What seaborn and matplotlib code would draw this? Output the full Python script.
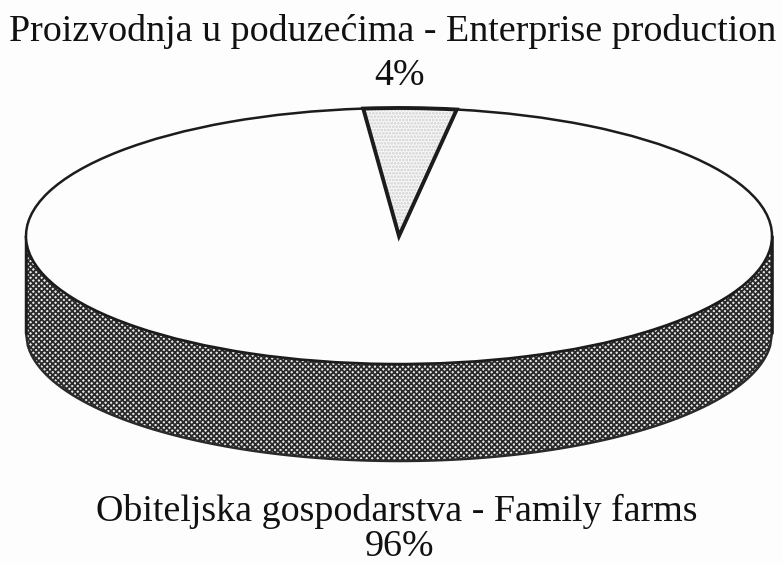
import numpy as np
import matplotlib
matplotlib.use('Agg')
import matplotlib.pyplot as plt
import seaborn as sns

categories = ['Obiteljska gospodarstva - Family farms', 'Proizvodnja u poduzećima - Enterprise production']
shares = [96, 4]
share_labels = ['96%', '4%']

sns.set_theme(style='white')
plt.rcParams['font.family'] = ['Liberation Serif', 'DejaVu Serif']
plt.rcParams['hatch.linewidth'] = 1.3

DARK = '#1c1c1c'

# pixel geometry of the tilted disc
CX, CY, RX, RY, DEPTH = 399, 236, 373, 128, 97

fig = plt.figure(figsize=(7.82, 5.63), dpi=100)
ax = fig.add_axes([0, 0, 1, 1])

# side wall of the disc
t = np.linspace(-1, 1, 400)
ax.fill_between(t, -np.sqrt(1 - t**2) - DEPTH / RY, -np.sqrt(1 - t**2),
                facecolor='#e8e8e8', edgecolor='#2a2a2a', hatch='xxxxxx', linewidth=1.8, zorder=1)
ax.plot([-1, -1], [0, -DEPTH / RY], color=DARK, lw=1.8, zorder=2)
ax.plot([1, 1], [0, -DEPTH / RY], color=DARK, lw=1.8, zorder=2)

# top face: wedge slightly off centre, like the source
start = 90 - 8.9
wedges, _ = ax.pie(shares[::-1], startangle=start, radius=1, center=(0, 0), frame=True,
                   colors=['#f8f8f8', '#fdfdfd'], wedgeprops={'edgecolor': DARK, 'linewidth': 1.8})
wedges[1].set_zorder(3)
wedges[0].set_zorder(4)
wedges[0].set_edgecolor('#cfcfcf')
wedges[0].set_hatch('.....')
wedges[0].set_linewidth(0)

# outline of the small wedge on top of its stipple
outline, _ = ax.pie(shares[::-1], startangle=start, radius=1, center=(0, 0), frame=True,
                    colors=['none', 'none'], wedgeprops={'edgecolor': DARK, 'linewidth': 2.8})
outline[0].set_zorder(5)
outline[1].set_visible(False)

ax.set_aspect('auto')
ax.set_xlim((0 - CX) / RX, (782 - CX) / RX)
ax.set_ylim((CY - 563) / RY, CY / RY)
ax.axis('off')

def label(px, py, s):
    ax.text((px - CX) / RX, (CY - py) / RY, s, ha='center', va='baseline',
            fontsize=27.4, color='#111111', zorder=6)

label(393, 41, categories[1])
label(399, 85, share_labels[1])
label(397, 521, categories[0])
label(399, 556, share_labels[0])

fig.savefig('out.png', dpi=100, facecolor='#fdfdfd')
